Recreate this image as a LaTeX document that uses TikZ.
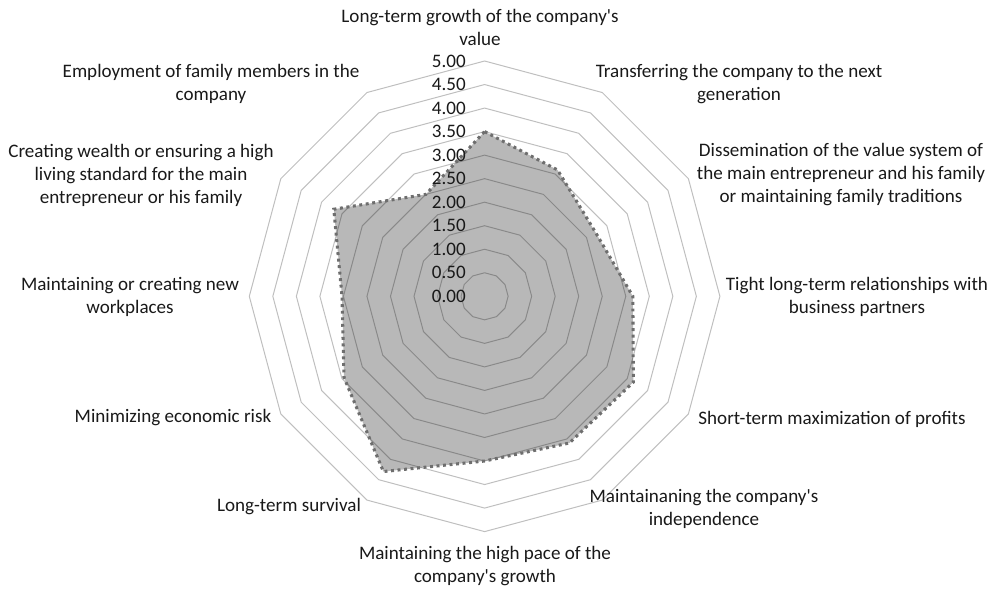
\documentclass[tikz,border=0pt]{standalone}
\usepackage{fontspec}
\setmainfont{Carlito}[Ligatures=TeXOff]
\begin{document}
\begin{tikzpicture}[x=0.75pt,y=-0.75pt,
  lbl/.style={font=\fontsize{14.3pt}{17.25pt}\selectfont, text=black!90, align=center, inner sep=0pt},
  tick/.style={font=\fontsize{14.3pt}{17.25pt}\selectfont, text=black!90, anchor=east, inner sep=0pt},
  ring/.style={draw=black!25, line width=0.75pt},
  series/.style={fill=black, fill opacity=0.28, draw=black!57, line width=2.3pt, dash pattern=on 2.2pt off 2.7pt}]
\useasboundingbox (0,0) rectangle (1003,589);
\def\cx{484.6}\def\cy{296.3}\def\u{47.06}
% grid rings
\foreach \i in {1,...,10}{
  \draw[ring] ({\cx},{\cy-\i*0.5*\u})
    \foreach \k in {1,...,11}{ -- ({\cx+\i*0.5*\u*sin(30*\k)},{\cy-\i*0.5*\u*cos(30*\k)}) } -- cycle;
}
% data
\foreach \v [count=\k from 0] in {3.5,3.1,2.72,3.15,3.65,3.6,3.5,4.3,3.45,3.03,3.7,2.5}{
  \coordinate (p\k) at ({\cx+\v*\u*sin(30*\k)},{\cy-\v*\u*cos(30*\k)});
}
\draw[series] (p0) -- (p1) -- (p2) -- (p3) -- (p4) -- (p5) -- (p6) -- (p7) -- (p8) -- (p9) -- (p10) -- (p11) -- cycle;
% tick labels
\foreach \t [count=\i from 0] in {0.00,0.50,1.00,1.50,2.00,2.50,3.00,3.50,4.00,4.50,5.00}{
  \node[tick] (t\i) at (466,{\cy-\i*0.5*\u}) {\t};
}
% category labels
\node[lbl] (c1) at (480,27) {Long-term growth of the company's\\value};
\node[lbl] (c2) at (739,84) {Transferring the company to the next\\generation};
\node[lbl] (c3) at (841,175) {Dissemination of the value system of\\the main entrepreneur and his family\\or maintaining family traditions};
\node[lbl] (c4) at (857,297) {Tight long-term relationships with\\business partners};
\node[lbl] (c5) at (832,419) {Short-term maximization of profits};
\node[lbl] (c6) at (704,509) {Maintainaning the company's\\independence};
\node[lbl] (c7) at (485,566) {Maintaining the high pace of the\\company's growth};
\node[lbl] (c8) at (289,507) {Long-term survival};
\node[lbl] (c9) at (173,418) {Minimizing economic risk};
\node[lbl] (c10) at (130,297) {Maintaining or creating new\\workplaces};
\node[lbl] (c11) at (141,175) {Creating wealth or ensuring a high\\living standard for the main\\entrepreneur or his family};
\node[lbl] (c12) at (211,84) {Employment of family members in the\\company};
\end{tikzpicture}
\end{document}
